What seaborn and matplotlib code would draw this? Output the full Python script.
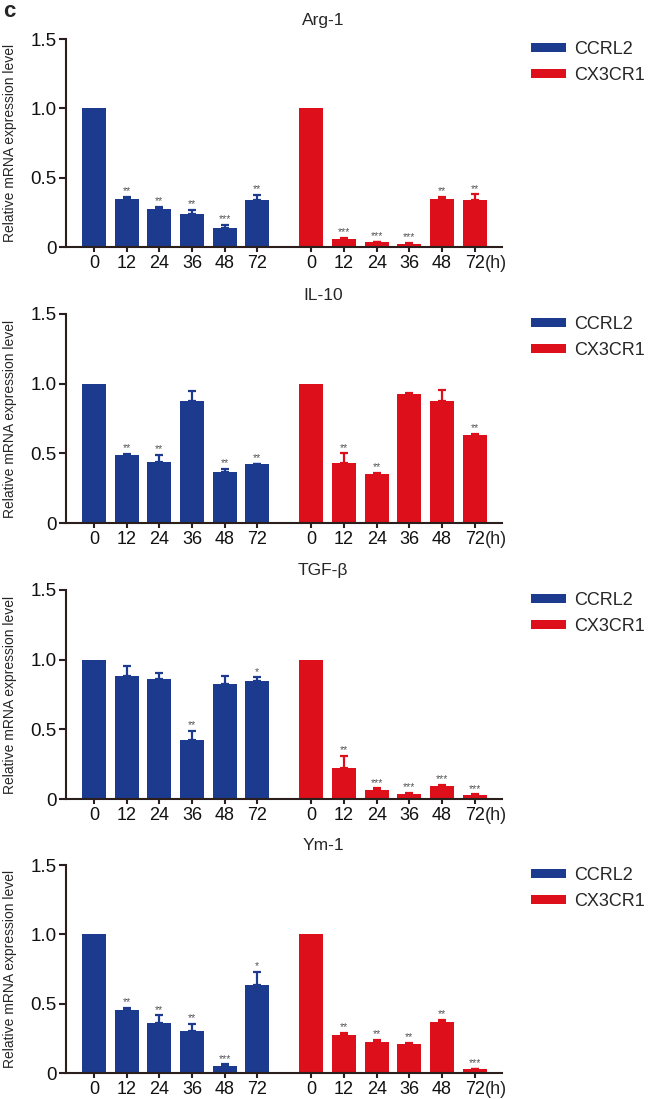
import numpy as np
import pandas as pd
import matplotlib
matplotlib.use("Agg")
import matplotlib.pyplot as plt
from matplotlib import font_manager
import seaborn as sns

# time points (h)
times = [0, 12, 24, 36, 48, 72]
groups = ["CCRL2", "CX3CR1"]
genes = ["Arg-1", "IL-10", "TGF-β", "Ym-1"]

# mean values and upper error (SEM)
arg1_ccrl2 = [1.0, 0.344, 0.273, 0.24, 0.136, 0.34]
arg1_ccrl2_err = [0, 0.016, 0.017, 0.03, 0.022, 0.035]
arg1_cx3cr1 = [1.0, 0.06, 0.033, 0.022, 0.349, 0.342]
arg1_cx3cr1_err = [0, 0.007, 0.005, 0.007, 0.015, 0.038]

il10_ccrl2 = [1.0, 0.49, 0.436, 0.875, 0.367, 0.422]
il10_ccrl2_err = [0, 0.008, 0.055, 0.075, 0.019, 0.005]
il10_cx3cr1 = [1.0, 0.432, 0.355, 0.926, 0.878, 0.633]
il10_cx3cr1_err = [0, 0.068, 0.007, 0.007, 0.079, 0.007]

tgfb_ccrl2 = [1.0, 0.883, 0.864, 0.425, 0.823, 0.85]
tgfb_ccrl2_err = [0, 0.069, 0.043, 0.062, 0.062, 0.023]
tgfb_cx3cr1 = [1.0, 0.222, 0.064, 0.038, 0.095, 0.026]
tgfb_cx3cr1_err = [0, 0.086, 0.012, 0.007, 0.005, 0.007]

ym1_ccrl2 = [1.0, 0.456, 0.362, 0.302, 0.05, 0.638]
ym1_ccrl2_err = [0, 0.016, 0.053, 0.051, 0.012, 0.089]
ym1_cx3cr1 = [1.0, 0.276, 0.22, 0.209, 0.367, 0.026]
ym1_cx3cr1_err = [0, 0.014, 0.017, 0.007, 0.014, 0.005]

# significance marks
arg1_ccrl2_sig = ["", "**", "**", "**", "***", "**"]
arg1_cx3cr1_sig = ["", "***", "***", "***", "**", "**"]
il10_ccrl2_sig = ["", "**", "**", "", "**", "**"]
il10_cx3cr1_sig = ["", "**", "**", "", "", "**"]
tgfb_ccrl2_sig = ["", "", "", "**", "", "*"]
tgfb_cx3cr1_sig = ["", "**", "***", "***", "***", "***"]
ym1_ccrl2_sig = ["", "**", "**", "**", "***", "*"]
ym1_cx3cr1_sig = ["", "**", "**", "**", "**", "***"]

panels = [
    (arg1_ccrl2, arg1_ccrl2_err, arg1_ccrl2_sig, arg1_cx3cr1, arg1_cx3cr1_err, arg1_cx3cr1_sig),
    (il10_ccrl2, il10_ccrl2_err, il10_ccrl2_sig, il10_cx3cr1, il10_cx3cr1_err, il10_cx3cr1_sig),
    (tgfb_ccrl2, tgfb_ccrl2_err, tgfb_ccrl2_sig, tgfb_cx3cr1, tgfb_cx3cr1_err, tgfb_cx3cr1_sig),
    (ym1_ccrl2, ym1_ccrl2_err, ym1_ccrl2_sig, ym1_cx3cr1, ym1_cx3cr1_err, ym1_cx3cr1_sig),
]

colors = {"CCRL2": "#1c3a8e", "CX3CR1": "#dc0f1b"}
spine_col = "#2a1f1c"
star_col = "#555555"

sns.set_theme(style="white")
plt.rcParams["font.family"] = ["Liberation Sans", "DejaVu Sans"]


def has_font(name):
    try:
        font_manager.findfont(name, fallback_to_default=False)
        return True
    except Exception:
        return False


narrow = has_font("Liberation Sans Narrow")

W, H = 649, 1099
fig = plt.figure(figsize=(W / 100, H / 100), dpi=100)

# axes boxes in pixels (top at 1.5, bottom at 0)
tops = [39, 314, 590, 865]
bottoms = [247, 523, 799, 1073]
left_px, right_px = 66, 502

group_offset = 6.66
pos_blue = np.arange(len(times))
pos_red = pos_blue + group_offset

fig.text(3 / W, 1 - 1 / H, "c", fontsize=16, fontweight="bold", ha="left", va="top")

for k, (gene, pan) in enumerate(zip(genes, panels)):
    b_val, b_err, b_sig, r_val, r_err, r_sig = pan
    ax = fig.add_axes([left_px / W, 1 - bottoms[k] / H,
                       (right_px - left_px) / W, (bottoms[k] - tops[k]) / H])

    df = pd.DataFrame({
        "pos": np.concatenate([pos_blue, pos_red]),
        "value": b_val + r_val,
        "group": [groups[0]] * len(times) + [groups[1]] * len(times),
    })
    sns.barplot(data=df, x="pos", y="value", hue="group", native_scale=True,
                dodge=False, palette=colors, width=0.74, errorbar=None,
                saturation=1, linewidth=0, ax=ax, legend=True)

    for pos, val, err, sig, g in [(pos_blue, b_val, b_err, b_sig, groups[0]),
                                  (pos_red, r_val, r_err, r_sig, groups[1])]:
        val = np.array(val)
        err = np.array(err)
        has_err = err > 0
        ax.errorbar(pos[has_err], val[has_err],
                    yerr=[np.zeros(has_err.sum()), err[has_err]], fmt="none",
                    ecolor=colors[g], elinewidth=1.6, capsize=3.2, capthick=1.6,
                    zorder=3)
        for p, v, e, s in zip(pos, val, err, sig):
            if s:
                ax.annotate(s, xy=(p, v + e), xytext=(0, 0.5),
                            textcoords="offset points", ha="center",
                            va="bottom", fontsize=7.5, color=star_col)

    ax.set_xlim(-0.86, 12.5)
    ax.set_ylim(0, 1.5)
    ax.set_yticks([0, 0.5, 1.0, 1.5])
    ax.set_yticklabels(["0", "0.5", "1.0", "1.5"])
    ax.set_xticks(np.concatenate([pos_blue, pos_red]))
    ax.set_xticklabels([str(t) for t in times] * 2)
    ax.set_xlabel("")
    ax.set_ylabel("")
    ax.annotate("(h)", xy=(pos_red[-1], 0), xycoords=("data", "axes fraction"),
                xytext=(7.5, -5.6), textcoords="offset points", ha="left", va="top",
                fontsize=13)

    for side in ["top", "right"]:
        ax.spines[side].set_visible(False)
    for side in ["left", "bottom"]:
        ax.spines[side].set_color(spine_col)
        ax.spines[side].set_linewidth(1.5)
    ax.tick_params(axis="x", bottom=True, length=3.6, width=1.5, pad=2,
                   color=spine_col, labelsize=13, labelcolor="#111111")
    ax.tick_params(axis="y", left=True, length=5, width=1.5, pad=1.5,
                   color=spine_col, labelsize=13.5, labelcolor="#111111")
    ax.grid(False)

    handles, labels = ax.get_legend_handles_labels()
    ax.legend(handles, labels, loc="upper left", frameon=False,
              bbox_to_anchor=(531 / W, 1 - (tops[k] + 2) / H),
              bbox_transform=fig.transFigure, borderpad=0, borderaxespad=0,
              handlelength=1.95, handleheight=0.42, handletextpad=0.45,
              labelspacing=0.5, fontsize=13)

    fig.text(323 / W, 1 - (tops[k] - 19) / H, gene, fontsize=12.5,
             ha="center", va="center")

    if narrow:
        fig.text(10 / W, 1 - (tops[k] + bottoms[k]) / 2 / H,
                 "Relative mRNA expression level", rotation=90,
                 ha="center", va="center", fontsize=11.5,
                 family=["Liberation Sans Narrow", "DejaVu Sans"])
    else:
        fig.text(10 / W, 1 - (tops[k] + bottoms[k]) / 2 / H,
                 "Relative mRNA expression level", rotation=90,
                 ha="center", va="center", fontsize=10)

fig.savefig("out.png", dpi=100)
